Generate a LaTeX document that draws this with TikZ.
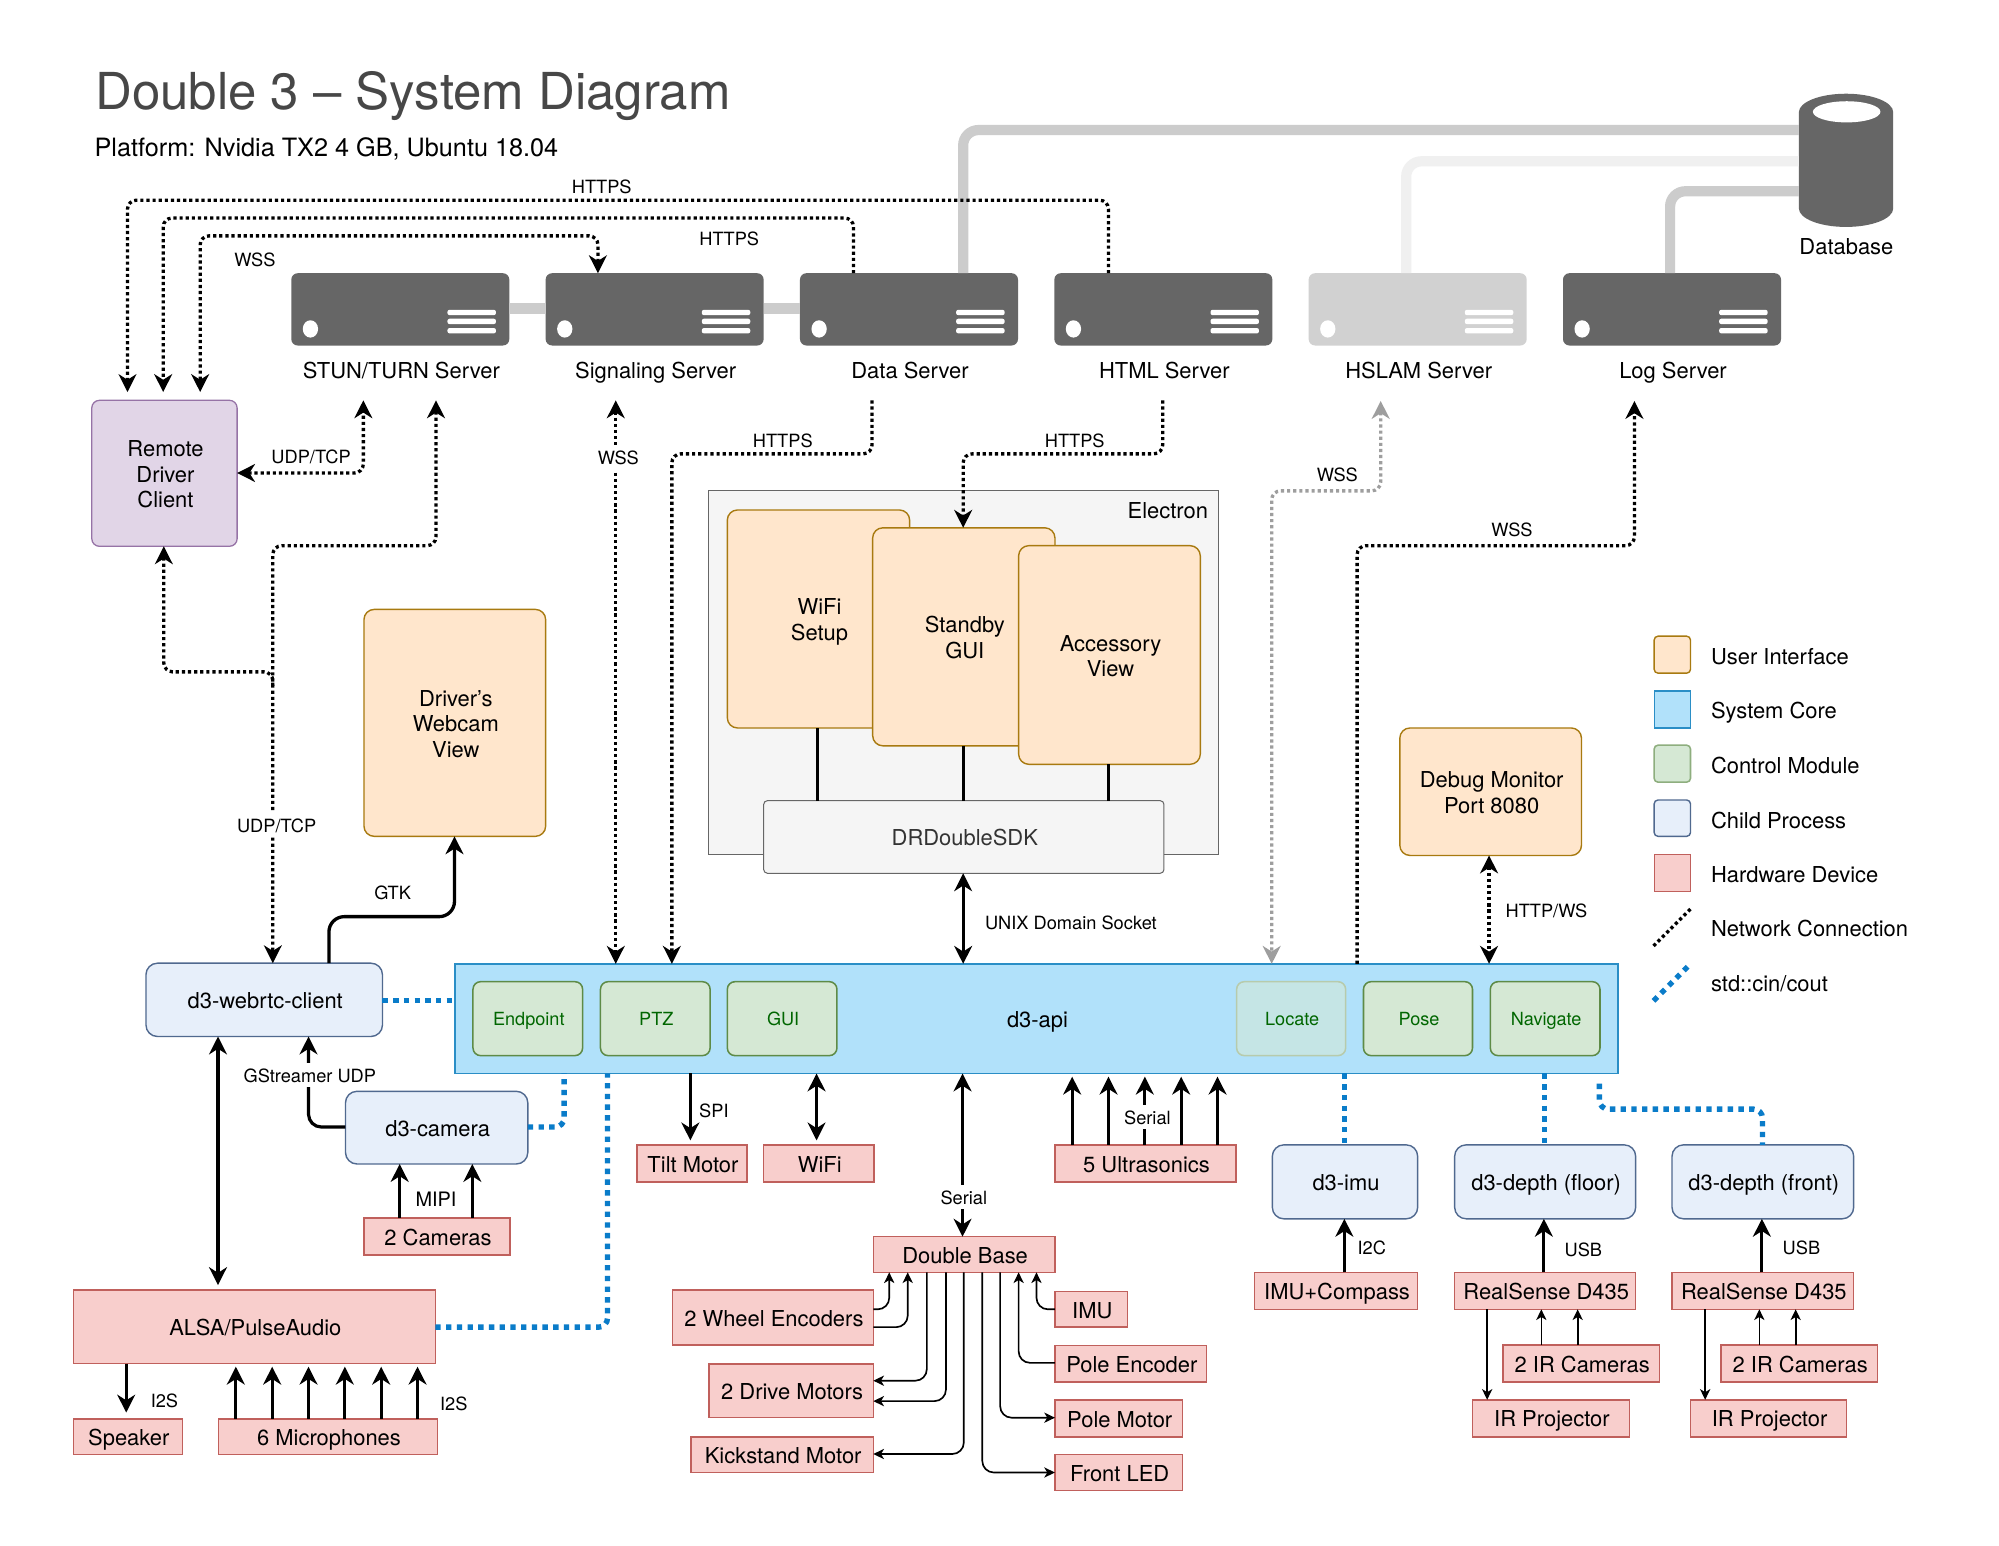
\documentclass[tikz,border=0pt]{standalone}
\usepackage{fontspec}
\setmainfont{TeX Gyre Heros}
\usetikzlibrary{arrows.meta}
\definecolor{uifill}{HTML}{FFE6CC}\definecolor{uistroke}{HTML}{A87A10}
\definecolor{corefill}{HTML}{B1E1FA}\definecolor{corestroke}{HTML}{2A8EC6}
\definecolor{ctlfill}{HTML}{D5E8D4}\definecolor{ctlstroke}{HTML}{5E8B47}
\definecolor{childfill}{HTML}{E7EFFA}\definecolor{childstroke}{HTML}{50698F}
\definecolor{hwfill}{HTML}{F8CECC}\definecolor{hwstroke}{HTML}{C0605C}
\definecolor{clientfill}{HTML}{E1D5E7}\definecolor{clientstroke}{HTML}{9673A6}
\definecolor{srv}{HTML}{666666}\definecolor{srvlight}{HTML}{D1D1D1}
\definecolor{stdio}{HTML}{0A7CC9}\definecolor{link}{HTML}{CCCCCC}
\definecolor{ctlgreen}{HTML}{006600}
\newcommand{\tf}{\rule{0pt}{\dimexpr 1em+.1pt\relax}}
\tikzset{
 base/.style={inner sep=0pt,outer sep=0pt,align=center,font=\fontsize{8.6}{10}\selectfont,
   execute at begin node={\kern.8pt\rule{0pt}{1em}},execute at end node={\rule[-.2em]{0pt}{.2em}}},
 ui/.style={base,draw=uistroke,fill=uifill,line width=.55pt,rounded corners=4pt},
 core/.style={base,draw=corestroke,fill=corefill,line width=.75pt},
 ctl/.style={base,draw=ctlstroke,fill=ctlfill,line width=.6pt,rounded corners=3pt,text=ctlgreen,font=\fontsize{7.1}{9}\selectfont},
 ctlfaded/.style={ctl,draw=ctlstroke!45,fill=ctlfill!55!corefill},
 child/.style={base,draw=childstroke,fill=childfill,line width=.55pt,rounded corners=4.5pt},
 hw/.style={base,draw=hwstroke,fill=hwfill,line width=.6pt},
 client/.style={base,draw=clientstroke,fill=clientfill,line width=.5pt,rounded corners=3pt},
 sdk/.style={base,draw=srv,fill=black!4,line width=.4pt,rounded corners=1.5pt,text=black!80},
 region/.style={base,draw=srv,fill=black!4,line width=.5pt},
 srvbox/.style={base,fill=srv,rounded corners=2.5pt},
 srvboxlight/.style={base,fill=srvlight,rounded corners=2.5pt},
 txt/.style={base,inner sep=0pt},
 small/.style={base,font=\fontsize{7.15}{9}\selectfont,execute at begin node={\kern-.8pt}},
 smallw/.style={small,fill=white,inner sep=.5pt},
 net/.style={draw=black,line width=1.3pt,dash pattern=on 1.25pt off 1.15pt,rounded corners=3.5pt,>={Stealth[length=7pt,width=7pt,inset=2.2pt]}},
 netgrey/.style={net,draw=black!38,>={Stealth[length=7pt,width=7pt,inset=2.2pt,black!38]}},
 cin/.style={draw=stdio,line width=2.1pt,dash pattern=on 2.1pt off 2.1pt,rounded corners=3.5pt},
 solid thick/.style={draw=black,line width=1.25pt,rounded corners=5pt,>={Stealth[length=7pt,width=7pt,inset=2.2pt]}},
 solid thin/.style={draw=black,line width=.65pt,rounded corners=4.5pt,>={Stealth[length=4.2pt,width=4pt,inset=1.2pt]}},
 dblink/.style={line width=4pt,rounded corners=6pt},
}
\newcommand{\boxnode}[7][]{%
 \pgfmathsetmacro{\cxx}{(#3+#5)/2}\pgfmathsetmacro{\cyy}{(#4+#6)/2}%
 \pgfmathsetmacro{\www}{(#5-#3)*0.5}\pgfmathsetmacro{\hhh}{(#6-#4)*0.5}%
 \node[#1,minimum width=\www pt,minimum height=\hhh pt] (#2) at (\cxx,\cyy) {#7};}
\newcommand{\servernode}[4]{% name, left, style, label
 \pgfmathsetmacro{\sxr}{#2+171}
 \boxnode[#3]{#1}{#2}{214.3}{\sxr}{271}{}
 \fill[white] (#2+15,258) ellipse (6 and 6.8);
 \foreach \yy in {243,250,257.3}{\fill[white,rounded corners=.8pt] (#2+122.5,\yy) rectangle (#2+160.5,\yy+4.2);}
 \node[txt] (#1label) at (#2+85.5,290) {#4};}
\begin{document}
\begin{tikzpicture}[x=0.5pt,y=-0.5pt]
\useasboundingbox[fill=white] (0,0) rectangle (1568,1211.9);
% titles
\node[txt,anchor=base west,text=black!72,font=\fontsize{19.98}{24}\selectfont] (title) at (73.2,86) {Double 3 – System Diagram};
\node[txt,anchor=base west,font=\fontsize{9.9}{12}\selectfont] (subtitle) at (72.6,122.5) {Platform: Nvidia TX2 4 GB, Ubuntu 18.04};
% servers
\servernode{stun}{228.5}{srvbox}{STUN/TURN Server}
\servernode{signal}{428}{srvbox}{Signaling Server}
\servernode{data}{627.5}{srvbox}{Data Server}
\servernode{html}{827}{srvbox}{HTML Server}
\servernode{hslam}{1026.5}{srvboxlight}{HSLAM Server}
\servernode{log}{1226}{srvbox}{Log Server}
% database
\boxnode[base]{db}{1411}{73.5}{1485}{178}{}
\fill[srv] (1411,88) arc[start angle=180,end angle=360,x radius=37,y radius=14.5] -- (1485,163.5) arc[start angle=0,end angle=180,x radius=37,y radius=14.5] -- cycle;
\fill[white] (1448.5,87.7) ellipse (26.5 and 8.3);
\node[txt] (dblabel) at (1447.5,193) {Database};
% database links
\draw[link,line width=4pt,rounded corners=6pt] (db.west |- 0,102) -- (755.5,102) -- (data.north -| 755.5,0);
\draw[black!6,dblink] (db.west |- 0,126.5) -- (1103,126.5) -- (hslam.north -| 1103,0);
\draw[link,dblink] (db.west |- 0,150) -- (1310,150) -- (log.north -| 1310,0);
\draw[link,line width=4pt] (stun.east |- 0,242) -- (signal.west |- 0,242);
\draw[link,line width=4pt] (signal.east |- 0,242) -- (data.west |- 0,242);
% remote
\boxnode[client]{remote}{72}{314}{186}{428.5}{\tf Remote\\Driver\\Client}
% Electron
\boxnode[region]{electron}{556}{385}{955.5}{670}{}
\node[txt,anchor=east] (electronlabel) at (947.5,400) {Electron};
\boxnode[ui]{wifisetup}{570.5}{400}{713.5}{571}{\tf WiFi\\Setup}
\boxnode[ui]{standby}{684.5}{414}{827.5}{585}{\tf Standby\\GUI}
\boxnode[ui]{accessory}{799}{428}{941.5}{599.5}{\tf Accessory\\View}
\boxnode[sdk]{sdkbox}{599}{628}{913}{685}{DRDoubleSDK}
\boxnode[ui]{webcam}{285.5}{478}{428}{656}{\tf Driver's\\Webcam\\View}
\boxnode[ui]{debug}{1098}{571}{1240.5}{671}{\tf Debug Monitor\\Port 8080}
% api
\boxnode[core]{api}{357}{756}{1269}{842}{}
\node[txt] (apilabel) at (813,799) {d3-api};
\boxnode[ctl]{endpoint}{371}{770}{457}{828}{Endpoint}
\boxnode[ctl]{ptz}{471}{770}{557}{828}{PTZ}
\boxnode[ctl]{gui}{570.5}{770}{656.5}{828}{GUI}
\boxnode[ctlfaded]{locate}{970}{770}{1055.5}{828}{Locate}
\boxnode[ctl]{pose}{1069.5}{770}{1155}{828}{Pose}
\boxnode[ctl]{navigate}{1169}{770}{1255}{828}{Navigate}
% child processes
\boxnode[child]{webrtc}{114.5}{755.5}{300}{813}{d3-webrtc-client}
\boxnode[child]{camera}{271}{856}{414}{913}{d3-camera}
\boxnode[child]{imu3}{998}{898}{1112}{956}{d3-imu}
\boxnode[child]{depthfloor}{1141}{898}{1283}{956}{d3-depth (floor)}
\boxnode[child]{depthfront}{1311.5}{898}{1454}{956}{d3-depth (front)}
% hardware
\boxnode[hw]{cams}{285.5}{955.5}{400}{984.5}{2 Cameras}
\boxnode[hw]{tilt}{499.5}{898}{586}{927}{Tilt Motor}
\boxnode[hw]{wifi}{599}{898}{685.5}{927}{WiFi}
\boxnode[hw]{ultra}{827.5}{898}{969.5}{927}{5 Ultrasonics}
\boxnode[hw]{dbase}{685}{970}{827.5}{998}{Double Base}
\boxnode[hw]{wheel}{527.5}{1012}{685}{1055}{2 Wheel Encoders}
\boxnode[hw]{drive}{556}{1070}{685}{1112}{2 Drive Motors}
\boxnode[hw]{kick}{542}{1127}{685}{1155}{Kickstand Motor}
\boxnode[hw]{imu}{827.5}{1013}{884.5}{1041}{IMU}
\boxnode[hw]{polee}{827.5}{1055.5}{946.5}{1084}{Pole Encoder}
\boxnode[hw]{polem}{827.5}{1098}{927.5}{1127}{Pole Motor}
\boxnode[hw]{led}{827.5}{1141}{927.5}{1169}{Front LED}
\boxnode[hw]{alsa}{57.5}{1012}{341.5}{1069.5}{ALSA/PulseAudio}
\boxnode[hw]{speaker}{57.5}{1113}{143}{1141}{Speaker}
\boxnode[hw]{mics}{171.5}{1113}{343}{1141}{6 Microphones}
\boxnode[hw]{compass}{984}{998}{1112}{1027}{IMU+Compass}
\boxnode[hw]{rsa}{1141}{998}{1283}{1027}{RealSense D435}
\boxnode[hw]{ira}{1179}{1055}{1301.5}{1084}{2 IR Cameras}
\boxnode[hw]{pra}{1155}{1098}{1278}{1127}{IR Projector}
\boxnode[hw]{rsb}{1311.5}{998}{1454}{1027}{RealSense D435}
\boxnode[hw]{irb}{1350}{1055}{1472.5}{1084}{2 IR Cameras}
\boxnode[hw]{prb}{1326}{1098}{1448.5}{1127}{IR Projector}
% free ends
\coordinate (stunA) at (285,314);
\coordinate (stunB) at (342,314);
\coordinate (sigB) at (483,314);
\coordinate (dataB) at (684,314);
\coordinate (htmlB) at (912,314);
\coordinate (hslamB) at (1083,314.5);
\coordinate (logB) at (1282,314.5);
\coordinate (remA) at (100,307.5);
\coordinate (remB) at (128,307.5);
\coordinate (remC) at (157,307.5);
\coordinate (join) at (214,538);
\coordinate (depthstart) at (1254.5,850);
% network
\draw[net,->] (html.north -| 869.5,0) -- (869.5,157) -- (100,157) -- (remA);
\draw[net,->] (data.north -| 669.5,0) -- (669.5,171) -- (128,171) -- (remB);
\draw[net,<->] (signal.north -| 469,0) -- (469,185) -- (157,185) -- (remC);
\draw[net,<->] (remote.east |- 0,371) -- (285,371) -- (stunA);
\draw[net,<->] (stunB) -- (342,428) -- (214,428) -- (webrtc.north -| 214,0);
\draw[net,->] (join) -- (214,527) -- (128.5,527) -- (remote.south -| 128.5,0);
\draw[net,<->] (sigB) -- (api.north -| 483,0);
\draw[net,->] (dataB) -- (684,356) -- (527,356) -- (api.north -| 527,0);
\draw[net,->] (htmlB) -- (912,356) -- (755.5,356) -- (standby.north -| 755.5,0);
\draw[netgrey,<->] (hslamB) -- (1083,385) -- (997.5,385) -- (api.north -| 997.5,0);
\draw[net,->] (api.north -| 1064.5,0) -- (1064.5,428) -- (1282,428) -- (logB);
\draw[net,<->] (debug.south -| 1168,0) -- (api.north -| 1168,0);
% cin/cout
\draw[cin] (webrtc.east |- 0,785) -- (api.west |- 0,785);
\draw[cin] (camera.east |- 0,884) -- (442.5,884) -- (api.south -| 442.5,0);
\draw[cin] (alsa.east |- 0,1041) -- (476.5,1041) -- (api.south -| 476.5,0);
\draw[cin] (api.south -| 1054.5,0) -- (imu3.north -| 1054.5,0);
\draw[cin] (api.south -| 1211.5,0) -- (depthfloor.north -| 1211.5,0);
\draw[cin] (depthstart) -- (1254.5,870) -- (1382.5,870) -- (depthfront.north -| 1382.5,0);
% solid thick
\draw[solid thick,line width=1.3pt,rounded corners=6pt,->] (webrtc.north -| 258,0) -- (258,719) -- (356.5,719) -- (webcam.south -| 356.5,0);
\draw[solid thick,<->] (sdkbox.south -| 755.5,0) -- (api.north -| 755.5,0);
\draw[solid thick] (wifisetup.south -| 641,0) -- (sdkbox.north -| 641,0);
\draw[solid thick] (standby.south -| 755.5,0) -- (sdkbox.north -| 755.5,0);
\draw[solid thick] (accessory.south -| 869.5,0) -- (sdkbox.north -| 869.5,0);
\draw[solid thick,->] (api.south -| 541.5,0) -- (541.5,894.5);
\draw[solid thick,<->] (api.south -| 640.5,0) -- (640.5,894.5);
\draw[solid thick,<->] (api.south -| 755,0) -- (dbase.north -| 755,0);
\foreach \xx in {841,869.5,898,926.5,955}{\draw[solid thick,->] (ultra.north -| \xx,0) -- (\xx,844.5);}
\foreach \xx in {313.5,370.5}{\draw[solid thick,->] (cams.north -| \xx,0) -- (camera.south -| \xx,0);}
\draw[solid thick,->] (camera.west |- 0,884) -- (242,884) -- (webrtc.south -| 242,0);
\draw[solid thick,<->] (webrtc.south -| 171,0) -- (171,1008);
\draw[solid thick,->] (alsa.south -| 99,0) -- (99,1108);
\foreach \xx in {185,213.5,242,270.5,299,327.5}{\draw[solid thick,->] (mics.north -| \xx,0) -- (\xx,1072);}
\draw[solid thick,->] (compass.north -| 1054.5,0) -- (imu3.south -| 1054.5,0);
\draw[solid thick,->] (rsa.north -| 1211,0) -- (depthfloor.south -| 1211,0);
\draw[solid thick,->] (rsb.north -| 1382,0) -- (depthfront.south -| 1382,0);
% solid thin
\draw[solid thin,->] (wheel.east |- 0,1027) -- (697.5,1027) -- (dbase.south -| 697.5,0);
\draw[solid thin,->] (wheel.east |- 0,1041) -- (712,1041) -- (dbase.south -| 712,0);
\draw[solid thin,->] (dbase.south -| 727,0) -- (727,1083) -- (drive.east |- 0,1083);
\draw[solid thin,->] (dbase.south -| 742,0) -- (742,1099) -- (drive.east |- 0,1099);
\draw[solid thin,->] (dbase.south -| 756,0) -- (756,1140.5) -- (kick.east |- 0,1140.5);
\draw[solid thin,->] (dbase.south -| 770.5,0) -- (770.5,1155) -- (led.west |- 0,1155);
\draw[solid thin,->] (dbase.south -| 784.5,0) -- (784.5,1112) -- (polem.west |- 0,1112);
\draw[solid thin,->] (polee.west |- 0,1069) -- (799,1069) -- (dbase.south -| 799,0);
\draw[solid thin,->] (imu.west |- 0,1027) -- (813,1027) -- (dbase.south -| 813,0);
\draw[solid thin,->] (rsa.south -| 1166.5,0) -- (pra.north -| 1166.5,0);
\foreach \xx in {1209,1237.5}{\draw[solid thin,->] (ira.north -| \xx,0) -- (rsa.south -| \xx,0);}
\draw[solid thin,->] (rsb.south -| 1337.5,0) -- (prb.north -| 1337.5,0);
\foreach \xx in {1380,1408.5}{\draw[solid thin,->] (irb.north -| \xx,0) -- (rsb.south -| \xx,0);}
% connector labels
\node[small] (l1) at (472,146) {HTTPS};
\node[small] (l2) at (572,187) {HTTPS};
\node[small] (l3) at (200,203) {WSS};
\node[small] (l4) at (244,358) {UDP/TCP};
\node[small] (l5) at (614,345) {HTTPS};
\node[small] (l6) at (843,345) {HTTPS};
\node[smallw] (l7) at (485,359) {WSS};
\node[small] (l8) at (1049,372) {WSS};
\node[small] (l9) at (1186,415) {WSS};
\node[smallw] (l10) at (217,647) {UDP/TCP};
\node[small] (l11) at (308,700) {GTK};
\node[small] (l12) at (840,723) {UNIX Domain Socket};
\node[small] (l13) at (1213,714) {HTTP/WS};
\node[smallw] (l14) at (243,843) {GStreamer UDP};
\node[small] (l15) at (560,871) {SPI};
\node[smallw] (l16) at (900,876) {Serial};
\node[smallw] (l17) at (756,939) {Serial};
\node[small,font=\fontsize{7.8}{9}\selectfont] (l18) at (342,940) {MIPI};
\node[small] (l19) at (129,1098) {I2S};
\node[small] (l20) at (356,1101) {I2S};
\node[small] (l21) at (1076,978) {I2C};
\node[small] (l22) at (1242,980) {USB};
\node[small] (l23) at (1413,978) {USB};
% legend
\boxnode[ui,rounded corners=1.5pt]{k1}{1297.5}{499}{1326}{528}{}
\boxnode[core,line width=.5pt]{k2}{1297.5}{542}{1326}{571}{}
\boxnode[ctl,draw=ctlstroke!70,rounded corners=1.5pt]{k3}{1297.5}{584.5}{1326}{613.5}{}
\boxnode[child,rounded corners=1.5pt]{k4}{1297.5}{627.5}{1326}{656}{}
\boxnode[hw,line width=.5pt]{k5}{1297.5}{670}{1326}{699}{}
\node[txt,anchor=west] (t1) at (1340.5,514) {User Interface};
\node[txt,anchor=west] (t2) at (1340.5,557) {System Core};
\node[txt,anchor=west] (t3) at (1340.5,600) {Control Module};
\node[txt,anchor=west] (t4) at (1340.5,643) {Child Process};
\node[txt,anchor=west] (t5) at (1340.5,685) {Hardware Device};
\node[txt,anchor=west] (t6) at (1340.5,728) {Network Connection};
\node[txt,anchor=west] (t7) at (1340.5,771) {std::cin/cout};
\coordinate (k6a) at (1297,742);\coordinate (k6b) at (1326,713);
\coordinate (k7a) at (1297,785);\coordinate (k7b) at (1326,756);
\draw[net] (k6a) -- (k6b);
\draw[cin] (k7a) -- (k7b);
\end{tikzpicture}
\end{document}
